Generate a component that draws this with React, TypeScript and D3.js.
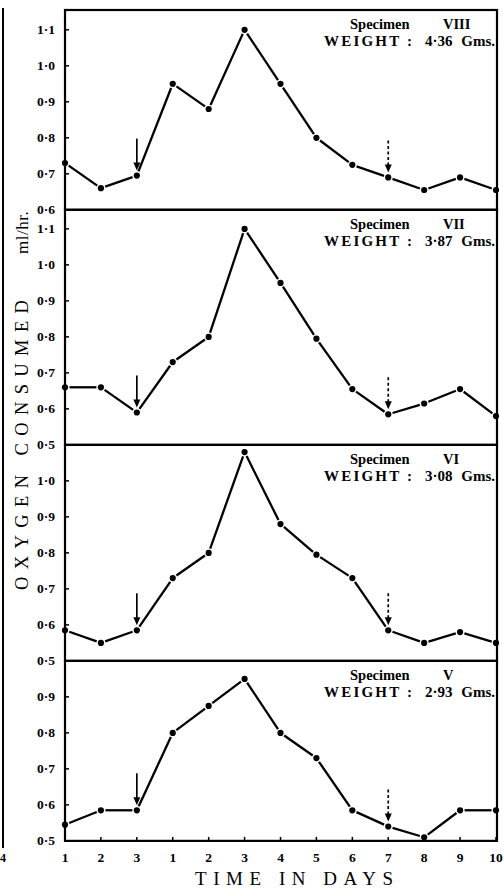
import * as d3 from "d3";

// day labels along the bottom (three pre-days, then 1..10)
const days = ["1", "2", "3", "1", "2", "3", "4", "5", "6", "7", "8", "9", "10"];
const specimens = ["VIII", "VII", "VI", "V"];
const weights = ["4·36", "3·87", "3·08", "2·93"];

// oxygen consumed ml/hr
const oxygenVIII = [0.73, 0.66, 0.695, 0.95, 0.88, 1.1, 0.95, 0.8, 0.725, 0.69, 0.655, 0.69, 0.655];
const oxygenVII = [0.66, 0.66, 0.59, 0.73, 0.8, 1.1, 0.95, 0.795, 0.655, 0.585, 0.615, 0.655, 0.58];
const oxygenVI = [0.585, 0.55, 0.585, 0.73, 0.8, 1.08, 0.88, 0.795, 0.73, 0.585, 0.55, 0.58, 0.55];
const oxygenV = [0.545, 0.585, 0.585, 0.8, 0.875, 0.95, 0.8, 0.73, 0.585, 0.54, 0.51, 0.585, 0.585];

const yLow = [0.6, 0.5, 0.5, 0.5];
const yHigh = [1.155, 1.153, 1.1, 1.0];
const tickHigh = [1.1, 1.1, 1.0, 0.9];

const solidArrowAt = 2;
const dashedArrowAt = 9;

const series = [oxygenVIII, oxygenVII, oxygenVI, oxygenV];

export default function App() {
  const width = 503;
  const height = 892;
  const left = 65;
  const right = 497;
  const top = 10;
  const pxPerUnit = 360;
  const font = "'Liberation Serif', 'DejaVu Serif', serif";

  const x = d3.scalePoint<number>()
    .domain(d3.range(days.length))
    .range([left, right - 1]);

  // stack the panels, each with the same vertical scale per 0.1
  let cursor = top;
  const panels = series.map((values, i) => {
    const h = (yHigh[i] - yLow[i]) * pxPerUnit;
    const y = d3.scaleLinear().domain([yLow[i], yHigh[i]]).range([cursor + h, cursor]);
    const p = { values, y, top: cursor, bottom: cursor + h, i };
    cursor += h;
    return p;
  });
  const bottom = cursor;

  const fmt = (v: number) => d3.format(".1f")(v).replace(".", "·");
  const line = d3.line<[number, number]>();

  // segments stop a little short of the dots, like the original drawing
  const segments = (values: number[], y: d3.ScaleLinear<number, number>) =>
    d3.pairs(values.map((v, k) => [x(k)!, y(v)] as [number, number])).map(([a, b]) => {
      const dx = b[0] - a[0];
      const dy = b[1] - a[1];
      const len = Math.hypot(dx, dy);
      const g = 4.5;
      return line([
        [a[0] + (dx / len) * g, a[1] + (dy / len) * g],
        [b[0] - (dx / len) * g, b[1] - (dy / len) * g]
      ]);
    });

  const arrow = (cx: number, cy: number, dashed: boolean, key: string) => (
    <g key={key}>
      <line x1={cx} x2={cx} y1={cy - 37} y2={cy - 10} stroke="#000" strokeWidth={1.7}
        strokeDasharray={dashed ? "3,2.5" : undefined} />
      <path d={`M${cx - 3.5},${cy - 13} L${cx},${cy - 5} L${cx + 3.5},${cy - 13} Z`} fill="#000" />
    </g>
  );

  return (
    <div style={{ position: "absolute", left: 0, top: 0 }}>
      <svg width={width} height={height} style={{ display: "block", background: "#fff" }}>
        {/* edge of the neighbouring figure */}
        <line x1={3} x2={3} y1={8} y2={848} stroke="#000" strokeWidth={2} />
        <text x={3} y={862} fontFamily={font} fontWeight="bold" fontSize={12} textAnchor="middle">4</text>

        {panels.map(({ values, y, top: pt, bottom: pb, i }) => {
          const ticks = d3.range(Math.round(yLow[i] * 10), Math.round(tickHigh[i] * 10) + 1).map(t => t / 10);
          return (
            <g key={i}>
              <rect x={left} y={pt} width={right - left} height={pb - pt} fill="none" stroke="#000" strokeWidth={2.2} />
              {ticks.map(t => (
                <g key={t}>
                  <line x1={left} x2={left + 4} y1={y(t)} y2={y(t)} stroke="#000" strokeWidth={1.5} />
                  <text x={55} y={y(t) + 4.5} textAnchor="end" fontFamily={font} fontWeight="bold" fontSize={13.5}>
                    {fmt(t)}
                  </text>
                </g>
              ))}
              <g stroke="#000" strokeWidth={2.3} fill="none">
                {segments(values, y).map((d, k) => <path key={k} d={d ?? ""} />)}
              </g>
              {values.map((v, k) => (
                <circle key={k} cx={x(k)} cy={y(v)} r={3.1} fill="#000" />
              ))}
              {arrow(x(solidArrowAt)!, y(values[solidArrowAt]), false, "s")}
              {arrow(x(dashedArrowAt)!, y(values[dashedArrowAt]), true, "d")}
              <g fontFamily={font} fontWeight="bold" fill="#000">
                <text x={350} y={pt + 19} fontSize={14.5}>Specimen</text>
                <text x={443} y={pt + 19} fontSize={14.5}>{specimens[i]}</text>
                <text x={324} y={pt + 36} fontSize={15} textLength={88} lengthAdjust="spacing">WEIGHT :</text>
                <text x={425} y={pt + 36} fontSize={15}>{weights[i]}</text>
                <text x={495} y={pt + 36} fontSize={15} textAnchor="end">Gms.</text>
              </g>
            </g>
          );
        })}

        {days.map((d, k) => (
          <g key={k}>
            <line x1={x(k)} x2={x(k)} y1={bottom} y2={bottom - 4} stroke="#000" strokeWidth={1.5} />
            <text x={x(k)} y={862} textAnchor="middle" fontFamily={font} fontWeight="bold" fontSize={13.5}>{d}</text>
          </g>
        ))}

        <text x={195} y={885} fontFamily={font} fontSize={19} textLength={198} lengthAdjust="spacing">
          TIME IN DAYS
        </text>

        <g transform="translate(28,590) rotate(-90)" fontFamily={font}>
          <text x={0} y={0} fontSize={18.5} textLength={290} lengthAdjust="spacing">OXYGEN CONSUMED</text>
          <text x={336} y={0} fontSize={17} letterSpacing={0.5}>ml/hr.</text>
        </g>
      </svg>
    </div>
  );
}
